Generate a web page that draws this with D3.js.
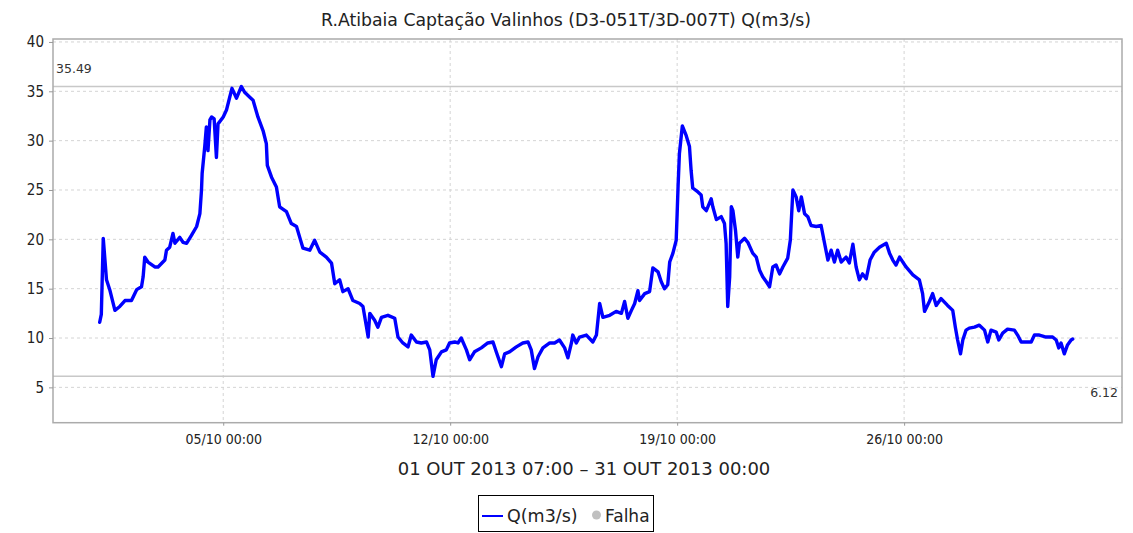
<!DOCTYPE html>
<html>
<head>
<meta charset="utf-8">
<script src="https://cdn.jsdelivr.net/npm/d3@7"></script>
<style>
  html, body { margin: 0; padding: 0; background: #fff; }
  svg { display: block; }
  text { font-family: "DejaVu Sans", sans-serif; fill: #222; }
</style>
</head>
<body>
<svg id="chart" width="1133" height="533"></svg>
<script>
// ---- data ----
const chartTitle = "R.Atibaia Captação Valinhos (D3-051T/3D-007T) Q(m3/s)";
const periodLabel = "01 OUT 2013 07:00 – 31 OUT 2013 00:00";
const seriesName = "Q(m3/s)";
const failName = "Falha";
const startDate = Date.UTC(2013, 9, 1, 0, 0); // 01/10/2013 00:00
// fractional days since 01/10 00:00
const days = [
  0.19,0.24,0.30,0.40,0.50,0.66,0.81,0.97,1.17,1.33,1.48,1.53,1.58,1.68,1.89,1.99,2.20,2.25,2.35,2.45,
  2.51,2.66,2.76,2.87,3.02,3.18,3.28,3.33,3.35,3.43,3.48,3.53,3.59,3.64,3.72,3.79,3.84,4.00,4.10,4.20,
  4.27,4.41,4.56,4.66,4.82,4.92,5.07,5.23,5.33,5.36,5.49,5.64,5.74,5.95,6.10,6.26,6.36,6.46,6.67,6.82,
  6.98,7.18,7.34,7.44,7.59,7.69,7.85,8.00,8.21,8.31,8.42,8.47,8.52,8.67,8.77,8.88,9.08,9.29,9.39,9.54,
  9.70,9.80,9.96,10.11,10.27,10.37,10.47,10.57,10.73,10.88,10.98,11.14,11.24,11.34,11.50,11.60,11.75,11.96,12.16,12.32,
  12.42,12.58,12.68,12.83,13.04,13.24,13.40,13.50,13.60,13.71,13.86,14.07,14.22,14.37,14.53,14.63,14.74,14.78,14.89,14.99,
  15.20,15.40,15.51,15.61,15.71,15.92,16.12,16.28,16.38,16.48,16.59,16.69,16.79,16.84,17.00,17.15,17.25,17.41,17.51,17.61,
  17.71,17.77,17.87,17.97,18.00,18.03,18.07,18.16,18.28,18.38,18.43,18.48,18.64,18.74,18.79,18.90,19.05,19.10,19.21,19.36,
  19.46,19.51,19.56,19.62,19.67,19.72,19.80,19.87,19.92,20.08,20.18,20.33,20.44,20.54,20.64,20.75,20.85,20.95,21.05,21.16,
  21.26,21.41,21.49,21.57,21.67,21.75,21.83,21.93,22.03,22.13,22.29,22.44,22.54,22.65,22.75,22.85,22.95,23.06,23.21,23.31,
  23.42,23.52,23.62,23.72,23.83,23.95,24.08,24.24,24.45,24.55,24.65,24.75,24.86,25.06,25.27,25.47,25.57,25.63,25.78,25.88,
  25.99,26.14,26.34,26.50,26.58,26.65,26.74,26.81,26.91,27.01,27.17,27.32,27.48,27.58,27.68,27.84,27.92,28.04,28.19,28.40,
  28.50,28.61,28.76,28.92,29.02,29.17,29.38,29.58,29.69,29.77,29.84,29.94,30.04,30.15,30.20
];
// flow Q (m3/s)
const flows = [
  11.6,12.4,20.1,15.9,14.9,12.8,13.2,13.8,13.8,14.9,15.2,16.2,18.2,17.7,17.2,17.2,17.9,18.9,19.2,20.6,
  19.6,20.2,19.7,19.6,20.4,21.3,22.6,25.0,26.7,29.4,31.4,29.0,32.1,32.4,32.2,28.3,31.7,32.4,33.1,34.4,
  35.3,34.3,35.49,34.9,34.4,34.1,32.4,31.0,29.7,27.5,26.3,25.3,23.3,22.8,21.6,21.3,20.2,19.1,18.9,19.9,
  18.7,18.2,17.6,15.5,15.9,14.7,15.0,13.8,13.5,13.2,11.1,10.1,12.5,11.8,11.1,12.1,12.3,12.0,10.1,9.5,
  9.1,10.3,9.6,9.5,9.6,8.8,6.12,7.8,8.6,8.8,9.5,9.6,9.5,10.0,8.8,7.8,8.6,9.0,9.5,9.6,
  8.6,7.1,8.4,8.6,9.1,9.5,9.6,8.8,6.9,8.1,9.0,9.5,9.5,9.8,9.0,8.0,9.5,10.3,9.5,10.1,
  10.3,9.6,10.3,13.5,12.1,12.3,12.7,12.5,13.7,12.0,12.8,13.5,14.8,13.8,14.5,14.7,17.1,16.7,15.7,15.0,
  15.4,17.7,18.6,19.9,22.6,25.5,28.7,31.5,30.5,29.4,27.0,25.2,24.8,24.5,23.3,22.9,24.1,23.3,22.0,22.3,
  21.6,19.6,13.2,16.2,23.3,22.9,20.9,18.2,19.6,20.1,19.7,18.6,18.2,16.9,16.2,15.7,15.2,17.2,17.4,16.5,
  17.2,18.1,19.9,25.0,24.3,22.9,24.3,22.6,22.3,21.4,21.3,21.4,19.7,17.9,18.9,17.7,18.9,17.7,18.2,17.6,
  19.5,17.2,15.9,16.5,16.0,17.9,18.7,19.2,19.6,18.6,17.9,17.4,18.2,17.2,16.4,15.9,14.5,12.7,13.7,14.5,
  13.3,14.0,13.3,12.8,11.1,9.8,8.4,9.8,10.8,11.0,11.1,11.3,10.8,9.6,10.8,10.6,9.8,10.5,10.9,10.8,
  10.3,9.6,9.6,9.6,10.3,10.3,10.1,10.1,9.8,9.0,9.5,8.4,9.3,9.8,9.9
];
const xTickDays = [4, 11, 18, 25];           // 05/10, 12/10, 19/10, 26/10 00:00
const yTickValues = [5, 10, 15, 20, 25, 30, 35, 40];
const maxValue = 35.49;
const minValue = 6.12;
const xDomainDays = [-1.25, 31.72];
const yDomain = [1.42, 40.3];

// ---- layout ----
const svg = d3.select("#chart");
const plot = { left: 53, right: 1122, top: 39, bottom: 422.7 };
const toDate = d => new Date(startDate + d * 86400000);

const x = d3.scaleUtc().domain(xDomainDays.map(toDate)).range([plot.left, plot.right]);
const y = d3.scaleLinear().domain(yDomain).range([plot.bottom, plot.top]);

const data = days.map((d, i) => ({ t: toDate(d), v: flows[i] }));

// title
svg.append("text").attr("x", 566).attr("y", 26).attr("text-anchor", "middle")
  .style("font-size", "17.3px").text(chartTitle);

// plot background
svg.append("rect").attr("x", plot.left).attr("y", plot.top)
  .attr("width", plot.right - plot.left).attr("height", plot.bottom - plot.top)
  .attr("fill", "#fff");

// grid
const grid = svg.append("g");
grid.selectAll("line.h").data(yTickValues).join("line")
  .attr("x1", plot.left).attr("x2", plot.right)
  .attr("y1", d => y(d)).attr("y2", d => y(d))
  .attr("stroke", "#d4d4d4").attr("stroke-width", 1).attr("stroke-dasharray", "3,3");
grid.selectAll("line.v").data(xTickDays).join("line")
  .attr("x1", d => x(toDate(d))).attr("x2", d => x(toDate(d)))
  .attr("y1", plot.top).attr("y2", plot.bottom)
  .attr("stroke", "#d4d4d4").attr("stroke-width", 1).attr("stroke-dasharray", "3,3");

// marker lines (max / min)
[maxValue, minValue].forEach(v => {
  svg.append("line").attr("x1", plot.left).attr("x2", plot.right)
    .attr("y1", y(v)).attr("y2", y(v)).attr("stroke", "#c8c8c8").attr("stroke-width", 1.5);
});
svg.append("text").attr("x", plot.left + 3).attr("y", y(maxValue) - 13)
  .style("font-size", "12.5px").style("fill", "#333").text(maxValue.toFixed(2));
svg.append("text").attr("x", plot.right - 4).attr("y", y(minValue) + 21)
  .attr("text-anchor", "end").style("font-size", "12.5px").style("fill", "#333").text(minValue.toFixed(2));

// series line
const line = d3.line().x(d => x(d.t)).y(d => y(d.v)).curve(d3.curveLinear);
svg.append("path").datum(data).attr("d", line)
  .attr("fill", "none").attr("stroke", "#0000ff").attr("stroke-width", 3.4)
  .attr("stroke-linejoin", "round").attr("stroke-linecap", "round");

// plot border
svg.append("rect").attr("x", plot.left).attr("y", plot.top)
  .attr("width", plot.right - plot.left).attr("height", plot.bottom - plot.top)
  .attr("fill", "none").attr("stroke", "#ababab").attr("stroke-width", 1.5);

// axes
const yAxis = d3.axisLeft(y).tickValues(yTickValues).tickSize(4).tickPadding(5).tickFormat(d3.format("d"));
const gy = svg.append("g").attr("transform", `translate(${plot.left},0)`).call(yAxis);
gy.select(".domain").remove();
gy.selectAll(".tick line").attr("stroke", "#999");
gy.selectAll(".tick text").style("font-size", "15px").style("font-family", "'DejaVu Sans Condensed','DejaVu Sans',sans-serif")
  .style("font-stretch", "condensed").attr("fill", "#222");

const xAxis = d3.axisBottom(x).tickValues(xTickDays.map(toDate)).tickSize(3).tickPadding(8)
  .tickFormat(d3.utcFormat("%d/%m %H:%M"));
const gx = svg.append("g").attr("transform", `translate(0,${plot.bottom})`).call(xAxis);
gx.select(".domain").remove();
gx.selectAll(".tick line").attr("stroke", "#999");
gx.selectAll(".tick text").style("font-size", "14px").style("font-family", "'DejaVu Sans Condensed','DejaVu Sans',sans-serif")
  .style("font-stretch", "condensed").attr("fill", "#111");

// period label
svg.append("text").attr("x", 584).attr("y", 475).attr("text-anchor", "middle")
  .style("font-size", "18px").text(periodLabel);

// legend
const lg = svg.append("g");
lg.append("rect").attr("x", 478.5).attr("y", 495.5).attr("width", 175).attr("height", 36)
  .attr("fill", "#fff").attr("stroke", "#000").attr("stroke-width", 1);
lg.append("line").attr("x1", 482).attr("x2", 503).attr("y1", 516).attr("y2", 516)
  .attr("stroke", "#0000ff").attr("stroke-width", 2);
lg.append("text").attr("x", 507).attr("y", 522).style("font-size", "17.5px").text(seriesName);
lg.append("circle").attr("cx", 596.5).attr("cy", 515).attr("r", 4.5).attr("fill", "#c0c0c0");
lg.append("text").attr("x", 605).attr("y", 522).style("font-size", "17px").text(failName);
</script>
</body>
</html>
